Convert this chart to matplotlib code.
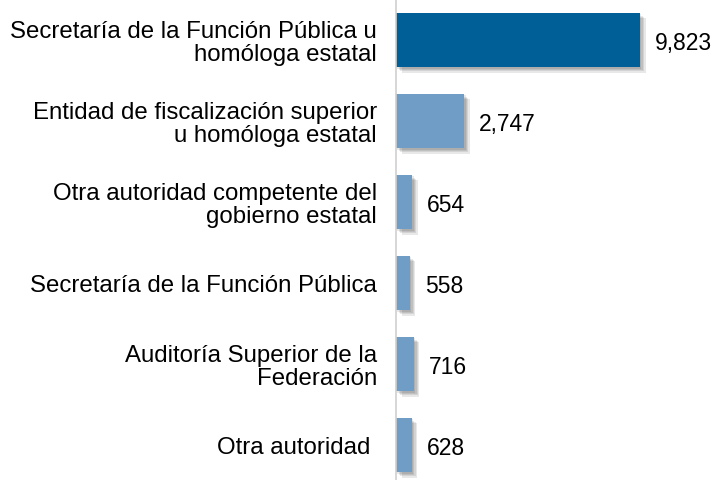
import matplotlib
matplotlib.use("Agg")
import matplotlib.pyplot as plt
import matplotlib.patheffects as pe

categories = [
    "Secretaría de la Función Pública u\nhomóloga estatal",
    "Entidad de fiscalización superior\nu homóloga estatal",
    "Otra autoridad competente del\ngobierno estatal",
    "Secretaría de la Función Pública",
    "Auditoría Superior de la\nFederación",
    "Otra autoridad ",
]
values = [9823, 2747, 654, 558, 716, 628]
colors = ["#005f96", "#6f9dc5", "#6f9dc5", "#6f9dc5", "#6f9dc5", "#6f9dc5"]

plt.rcParams['font.family'] = ['Liberation Sans', 'DejaVu Sans']

W, H = 717, 481
fig = plt.figure(figsize=(W / 100, H / 100), dpi=100)
ax = fig.add_axes([396 / W, 0, 321 / W, 1])

scale = 244 / 9823  # px per unit
xmax = 321 / scale
ax.set_xlim(0, xmax)
ax.set_ylim(5 + 35 / 81, -41 / 81)

ypos = list(range(len(values)))
bars = ax.barh(ypos, values, height=0.67, color=colors, zorder=2)
shadow = [pe.SimplePatchShadow(offset=(d, -d), shadow_rgbFace="#000000", alpha=0.09)
          for d in (4, 3, 2, 1)]
for b in bars:
    b.set_path_effects(shadow + [pe.Normal()])

for y, v in zip(ypos, values):
    ax.text(v + 15 / scale, y + 0.03, f"{v:,}", va="center", ha="left", fontsize=16.5, color="black")

for y, c in zip(ypos, categories):
    ax.text(-19 / scale, y + 0.03, c, va="center", ha="right", multialignment="right",
            fontsize=17.3, color="black", linespacing=1.02)

for s in ["top", "right", "bottom"]:
    ax.spines[s].set_visible(False)
ax.spines["left"].set_color("#d0d0d0")
ax.spines["left"].set_linewidth(1.2)
ax.set_xticks([])
ax.set_yticks([])

fig.savefig("out.png", dpi=100)
